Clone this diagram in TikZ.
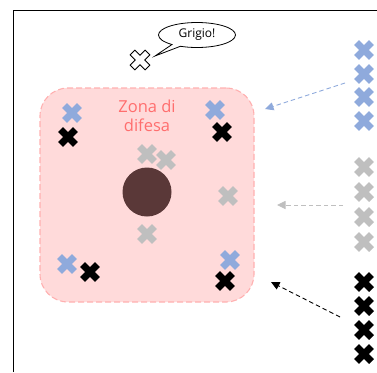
\documentclass[tikz,border=0pt]{standalone}
\usepackage{fontspec}
\setmainfont{Open Sans}
\usetikzlibrary{shapes.callouts,arrows.meta}
\definecolor{xblue}{HTML}{8FAADC}
\definecolor{xgray}{HTML}{BFBFBF}
\definecolor{zonefill}{HTML}{FFDADA}
\definecolor{zoneline}{HTML}{FFB0B0}
\definecolor{zonetext}{HTML}{FF6E6E}
\definecolor{ball}{HTML}{5A3838}
\tikzset{
  xcross/.pic={\path[pic actions] (-3.4,-10.6) -- (3.4,-10.6) -- (3.4,-3.4) -- (10.6,-3.4) -- (10.6,3.4) -- (3.4,3.4) -- (3.4,10.6) -- (-3.4,10.6) -- (-3.4,3.4) -- (-10.6,3.4) -- (-10.6,-3.4) -- (-3.4,-3.4) -- cycle;},
  bx/.style={fill=xblue, rotate=45},
  kx/.style={fill=black, rotate=45},
  gx/.style={fill=xgray, rotate=45},
  wx/.style={fill=white, draw=black, line width=0.8pt, rotate=45},
  movearrow/.style={dash pattern=on 4.5pt off 3pt, line width=0.9pt, -{Triangle[length=8.5pt,width=8pt]}},
}
\begin{document}
\begin{tikzpicture}[x=1pt,y=-1pt]
\useasboundingbox (0,0) rectangle (377,372);
% frame
\draw[line width=1.5pt] (13.5,372) -- (13.5,10.5) -- (377,10.5);
% defence zone
\node[draw=zoneline, fill=zonefill, dash pattern=on 6pt off 3pt, line width=1.1pt, rounded corners=28pt,
      minimum width=214pt, minimum height=214pt, inner sep=0pt] (zone) at (147,195) {};
\node[text=zonetext, font=\fontsize{16.5}{19}\selectfont, align=center] (zlabel) at (147,116) {Zona di\\difesa};
\node[circle, fill=ball, minimum size=49pt, inner sep=0pt] (ball) at (147,192) {};
% crosses inside zone
\pic[bx] at (72,113) {xcross};
\pic[bx] at (215,110) {xcross};
\pic[bx] at (67,264) {xcross};
\pic[bx] at (230,260) {xcross};
\pic[kx] at (68,137) {xcross};
\pic[kx] at (222,132) {xcross};
\pic[kx] at (90,272) {xcross};
\pic[kx] at (225,281) {xcross};
\pic[gx] at (147,154) {xcross};
\pic[gx] at (166,160) {xcross};
\pic[gx] at (228,196) {xcross};
\pic[gx] at (147,234) {xcross};
% white cross with callout
\pic[wx] at (140,60) {xcross};
\node[ellipse callout, draw=black, line width=0.8pt, fill=white,
      minimum width=77pt, minimum height=25pt, inner sep=0pt,
      callout absolute pointer={(155,56)}, font=\fontsize{12}{14}\selectfont] (call) at (197,35) {Grigio!};
% right column
\foreach \y in {50,74,97,121} {\pic[bx] at (364,\y) {xcross};}
\foreach \y in {167,192,217,242} {\pic[gx] at (364,\y) {xcross};}
\foreach \y in {282,306,330,354} {\pic[kx] at (364,\y) {xcross};}
% arrows
\coordinate (bs) at (345,83);
\coordinate (be) at (265,109);
\coordinate (gs) at (343,205);
\coordinate (ge) at (277,205);
\coordinate (ks) at (340,317);
\coordinate (ke) at (271,282);
\draw[movearrow, xblue] (bs) -- (be);
\draw[movearrow, xgray] (gs) -- (ge);
\draw[movearrow, black] (ks) -- (ke);
\end{tikzpicture}
\end{document}
